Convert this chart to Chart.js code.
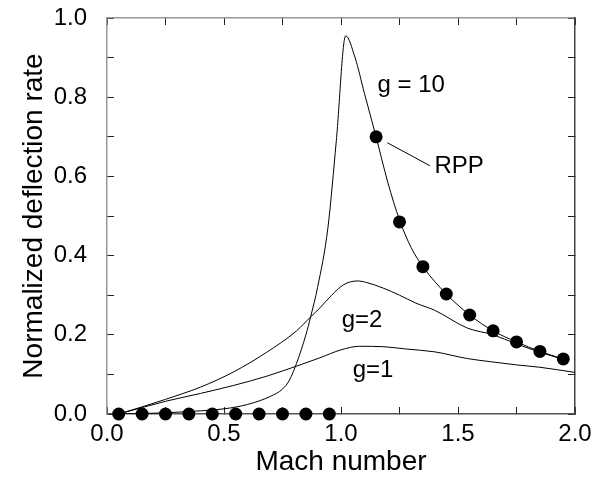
<!DOCTYPE html>
<html><head><meta charset="utf-8">
<script src="https://cdn.jsdelivr.net/npm/chart.js@4"></script>
<style>html,body{margin:0;padding:0;background:#fff}canvas{display:block}</style>
</head><body>
<canvas id="c" width="610" height="480"></canvas>
<script>
// ---- data ----
const g10Mach = [0.05, 0.2, 0.4, 0.5, 0.6, 0.7, 0.75, 0.78, 0.81, 0.85, 0.87, 0.90, 0.944, 0.98, 1.02, 1.06, 1.10, 1.15, 1.20, 1.25, 1.30, 1.35, 1.45, 1.55, 1.65, 1.75, 1.85, 1.95];
const g10Rate = [0.0, 0.002, 0.008, 0.013, 0.024, 0.045, 0.063, 0.086, 0.128, 0.20, 0.245, 0.32, 0.47, 0.69, 0.955, 0.90, 0.81, 0.70, 0.585, 0.49, 0.42, 0.372, 0.303, 0.25, 0.21, 0.182, 0.158, 0.139];

const g2Mach = [0.05, 0.15, 0.25, 0.4, 0.54, 0.68, 0.81, 0.87, 0.91, 0.96, 1.01, 1.07, 1.11, 1.18, 1.25, 1.32, 1.40, 1.54, 1.65, 1.75, 1.85, 1.95];
const g2Rate = [0.0, 0.018, 0.037, 0.068, 0.106, 0.155, 0.21, 0.245, 0.268, 0.30, 0.326, 0.336, 0.332, 0.318, 0.30, 0.28, 0.262, 0.217, 0.20, 0.177, 0.156, 0.138];

const g1Mach = [0.05, 0.25, 0.4, 0.54, 0.68, 0.825, 0.91, 1.0, 1.08, 1.18, 1.28, 1.40, 1.54, 1.64, 1.75, 1.85, 2.0];
const g1Rate = [0.0, 0.032, 0.052, 0.072, 0.095, 0.124, 0.142, 0.162, 0.171, 0.17, 0.164, 0.157, 0.14, 0.132, 0.124, 0.118, 0.105];

const rppMach = [0.05, 0.15, 0.25, 0.35, 0.45, 0.55, 0.65, 0.75, 0.85, 0.95, 1.15, 1.25, 1.35, 1.45, 1.55, 1.65, 1.75, 1.85, 1.95];
const rppRate = [0, 0, 0, 0, 0, 0, 0, 0, 0, 0, 0.70, 0.485, 0.372, 0.303, 0.25, 0.21, 0.182, 0.158, 0.139];

const leaderMach = [1.198, 1.38];
const leaderRate = [0.685, 0.627];

const labelText = ['g = 10', 'RPP', 'g=2', 'g=1'];
const labelMach = [1.30, 1.505, 1.09, 1.137];
const labelRate = [0.83, 0.626, 0.237, 0.111];

const xTickLabels = ['0.0', '0.5', '1.0', '1.5', '2.0'];
const yTickLabels = ['0.0', '0.2', '0.4', '0.6', '0.8', '1.0'];

// ---- chart ----
const FONT = '"Liberation Sans", Arial, Helvetica, sans-serif';
const pts = (xs, ys) => xs.map((x, i) => ({x, y: ys[i]}));
const curve = (xs, ys) => ({
  data: pts(xs, ys), showLine: true, borderColor: '#000', borderWidth: 1,
  pointRadius: 0, cubicInterpolationMode: 'monotone', tension: 0.4, fill: false
});

const labelPlugin = {
  id: 'labels',
  afterDatasetsDraw(chart) {
    const {ctx, scales: {x, y}} = chart;
    ctx.save();
    ctx.fillStyle = '#000';
    ctx.font = '24px ' + FONT;
    ctx.textAlign = 'center';
    ctx.textBaseline = 'middle';
    labelText.forEach((t, i) => {
      ctx.fillText(t, x.getPixelForValue(labelMach[i]), y.getPixelForValue(labelRate[i]));
    });
    ctx.restore();
  }
};

const TL = -7;
const tickGrid = {drawOnChartArea: false, drawTicks: true, tickLength: TL, tickColor: '#222', tickWidth: 1};
const noPad = s => { s.paddingTop = 0; s.paddingBottom = 0; s.paddingLeft = 0; s.paddingRight = 0; };

new Chart(document.getElementById('c'), {
  type: 'scatter',
  data: {
    datasets: [
      curve(g10Mach, g10Rate),
      curve(g2Mach, g2Rate),
      curve(g1Mach, g1Rate),
      {data: pts(leaderMach, leaderRate), showLine: true, borderColor: '#000', borderWidth: 1, pointRadius: 0, tension: 0},
      {data: pts(rppMach, rppRate), showLine: false, pointRadius: 6.5, pointBackgroundColor: '#000', pointBorderColor: '#000', pointBorderWidth: 0, clip: false}
    ]
  },
  options: {
    responsive: false,
    animation: false,
    events: [],
    layout: {padding: 0},
    plugins: {legend: {display: false}, tooltip: {enabled: false}},
    scales: {
      x: {
        type: 'linear', position: 'bottom', min: 0, max: 2,
        afterFit(s) { s.height = 66; noPad(s); },
        border: {display: true, color: '#555', width: 1.5},
        grid: tickGrid,
        ticks: {
          stepSize: 0.25, autoSkip: false, maxRotation: 0, padding: 13, color: '#000',
          font: {size: 24, family: FONT},
          callback: v => { const k = Math.round(v * 4); return k % 2 === 0 ? xTickLabels[k / 2] : ''; }
        },
        title: {display: true, text: 'Mach number', color: '#000', font: {size: 28, family: FONT}, padding: {top: 0, bottom: 1}}
      },
      y: {
        type: 'linear', position: 'left', min: 0, max: 1,
        afterFit(s) { s.width = 107; noPad(s); },
        border: {display: true, color: '#999', width: 1.5},
        grid: tickGrid,
        ticks: {
          stepSize: 0.1, autoSkip: false, padding: 27, color: '#000',
          font: {size: 24, family: FONT},
          callback: v => { const k = Math.round(v * 10); return k % 2 === 0 ? yTickLabels[k / 2] : ''; }
        },
        title: {display: true, text: 'Normalized deflection rate', color: '#000', font: {size: 28, family: FONT}, padding: {top: 17, bottom: 0}}
      },
      x2: {
        type: 'linear', position: 'top', min: 0, max: 2,
        afterFit(s) { s.height = 18; noPad(s); },
        border: {display: true, color: '#999', width: 1.5},
        grid: tickGrid,
        ticks: {stepSize: 0.25, display: false}
      },
      y2: {
        type: 'linear', position: 'right', min: 0, max: 1,
        afterFit(s) { s.width = 35; noPad(s); },
        border: {display: true, color: '#444', width: 1.5},
        grid: tickGrid,
        ticks: {stepSize: 0.1, display: false}
      }
    }
  },
  plugins: [labelPlugin]
});
</script>
</body></html>
